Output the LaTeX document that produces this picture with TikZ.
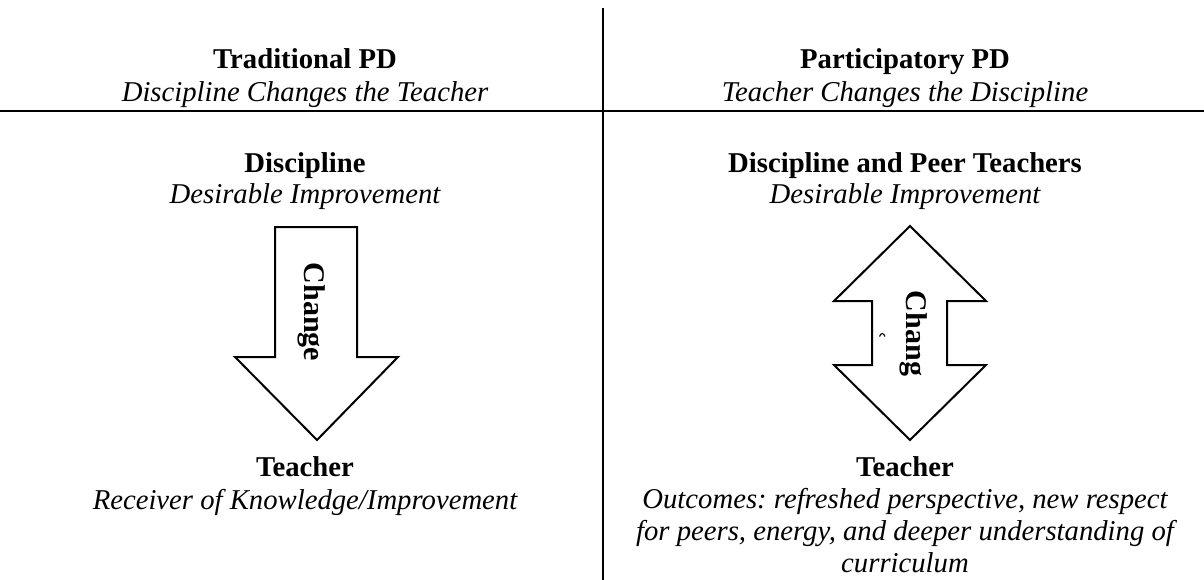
\documentclass[tikz,border=0pt]{standalone}
\usepackage{fontspec}
\setmainfont{Liberation Serif}
\frenchspacing
\begin{document}
\begin{tikzpicture}[x=1pt,y=-1pt,
  txt/.style={inner sep=0pt, anchor=base, font=\fontsize{28.7}{33}\selectfont},
  head/.style={txt, font=\fontsize{28.7}{33}\selectfont\bfseries},
  sub/.style={txt, font=\fontsize{28.7}{33}\selectfont\itshape},
  rule/.style={line width=2pt},
  bigarrow/.style={line width=2pt, fill=white, line join=miter},
  arrowlabel/.style={inner sep=0pt, anchor=base, rotate=-90,
    font=\fontsize{30}{33}\selectfont\bfseries}]
\useasboundingbox (0,0) rectangle (1204,580);

% dividing rules
\draw[rule] (0,111) -- (1204,111);
\draw[rule] (603,8) -- (603,580);

% column headings
\node[head] (tradT) at (305,69) {Traditional PD};
\node[sub]  (tradS) at (305,102) {Discipline Changes the Teacher};
\node[head] (partT) at (905,69) {Participatory PD};
\node[sub]  (partS) at (905,102) {Teacher Changes the Discipline};

% upper labels
\node[head] (discL) at (305,173) {Discipline};
\node[sub]  (discLs) at (305,204) {Desirable Improvement};
\node[head] (discR) at (905,173) {Discipline and Peer Teachers};
\node[sub]  (discRs) at (905,204) {Desirable Improvement};

% one-way change arrow
\draw[bigarrow] (275,227) -- (357,227) -- (357,357) -- (398,357)
  -- (317,440) -- (235,357) -- (275,357) -- cycle;
\node[arrowlabel] (chL) at (304,312) {Change};

% two-way change arrow
\draw[bigarrow] (910,226) -- (986,301) -- (947,301) -- (947,365)
  -- (986,365) -- (910,440) -- (834,365) -- (872,365) -- (872,301)
  -- (834,301) -- cycle;
\node[arrowlabel] (chR) at (906,333.5) {Chang};
\draw[line width=1.1pt] (879.5,336.5) .. controls (881,332.5) and (883.5,332.5) .. (885,336.5);

% lower labels
\node[head] (teachL) at (305,476) {Teacher};
\node[sub]  (teachLs) at (305,509) {Receiver of Knowledge/Improvement};
\node[head] (teachR) at (905,476) {Teacher};
\node[sub]  (out1) at (905,508) {Outcomes: refreshed perspective, new respect};
\node[sub]  (out2) at (905,540) {for peers, energy, and deeper understanding of};
\node[sub]  (out3) at (905,572) {curriculum};
\end{tikzpicture}
\end{document}
